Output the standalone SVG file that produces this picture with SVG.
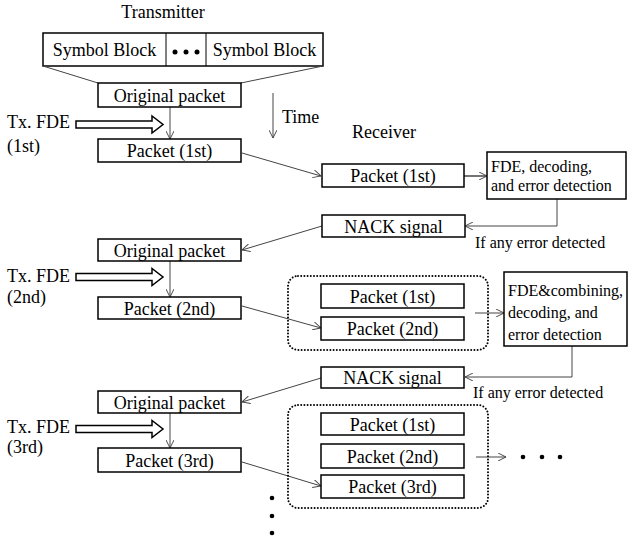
<svg xmlns="http://www.w3.org/2000/svg" width="636" height="539" viewBox="0 0 636 539" font-family="'Liberation Serif', 'Times New Roman', Times, serif">
<style>
text{font-family:'Liberation Serif','Times New Roman',Times,serif;fill:#000}
.t{font-size:18px}
.s{font-size:16px}
.m{text-anchor:middle}
.box{fill:#fff;stroke:#000;stroke-width:1.5}
.ln{fill:none;stroke:#444;stroke-width:1}
.ar{fill:none;stroke:#444;stroke-width:1;marker-end:url(#ah)}
.dot{fill:none;stroke:#000;stroke-width:2;stroke-dasharray:0 3.2;stroke-linecap:round}
.hol{fill:#fff;stroke:#000;stroke-width:1.5}
</style>
<defs>
<marker id="ah" viewBox="0 0 10 10" refX="10" refY="5" markerWidth="8" markerHeight="8" markerUnits="userSpaceOnUse" orient="auto">
<path d="M0,0 L10,5 L0,10" fill="none" stroke="#444" stroke-width="1.2"/>
</marker>
</defs>

<text class="t m" x="163" y="18">Transmitter</text>
<text class="t" x="352" y="138">Receiver</text>
<text class="t" x="282" y="123">Time</text>

<g id="symbolBlocks">
<rect class="box" x="43" y="33" width="280" height="33"/>
<line x1="166" y1="33" x2="166" y2="66" stroke="#000" stroke-width="1"/>
<line x1="206" y1="33" x2="206" y2="66" stroke="#000" stroke-width="1"/>
<text class="t m" x="104.5" y="56">Symbol Block</text>
<circle cx="175" cy="52" r="2.5"/><circle cx="186" cy="52" r="2.5"/><circle cx="197" cy="52" r="2.5"/>
<text class="t m" x="264.5" y="56">Symbol Block</text>
</g>

<g id="connectors">
<line class="ln" x1="43" y1="66" x2="98" y2="83"/>
<line class="ln" x1="323" y1="66" x2="241" y2="83"/>
<line class="ar" x1="170" y1="107" x2="170" y2="139"/>
<line class="ar" x1="273" y1="93" x2="273" y2="138"/>
<line class="ar" x1="242" y1="153" x2="321" y2="176"/>
<line class="ar" x1="464" y1="176" x2="487" y2="176" style="stroke-width:1.5"/>
<polyline class="ar" points="557,199 557,226 465,226"/>
<line class="ar" x1="322" y1="226" x2="242" y2="250"/>
<line class="ar" x1="170" y1="261" x2="170" y2="297"/>
<line class="ar" x1="242" y1="306" x2="321" y2="328"/>
<line class="ar" x1="475" y1="313" x2="504" y2="313"/>
<polyline class="ar" points="572,346 572,377 465,377"/>
<line class="ar" x1="321" y1="378" x2="242" y2="402"/>
<line class="ar" x1="170" y1="413" x2="170" y2="448"/>
<line class="ar" x1="242" y1="462" x2="321" y2="486"/>
<line class="ar" x1="476" y1="457" x2="506" y2="457"/>
</g>

<g id="txfde1">
<text class="t" x="7" y="128">Tx. FDE</text>
<text class="t" x="7" y="152">(1st)</text>
<polygon class="hol" points="76,121 152,121 152,116 163,124.5 152,133 152,128 76,128"/>
</g>
<g id="txfde2">
<text class="t" x="7" y="282">Tx. FDE</text>
<text class="t" x="7" y="303">(2nd)</text>
<polygon class="hol" points="76,273.5 152,273.5 152,268.5 163,277 152,285.5 152,280.5 76,280.5"/>
</g>
<g id="txfde3">
<text class="t" x="7" y="433">Tx. FDE</text>
<text class="t" x="7" y="453">(3rd)</text>
<polygon class="hol" points="76,425.5 152,425.5 152,420.5 163,429 152,437.5 152,432.5 76,432.5"/>
</g>

<g id="orig1"><rect class="box" x="98" y="83" width="143" height="24"/><text class="t m" x="169.5" y="101.5">Original packet</text></g>
<g id="tx1"><rect class="box" x="98" y="139" width="143" height="23"/><text class="t m" x="169.5" y="157">Packet (1st)</text></g>
<g id="rx1"><rect class="box" x="322" y="164" width="142" height="23"/><text class="t m" x="393" y="182">Packet (1st)</text></g>
<g id="fde1"><rect class="box" x="487" y="152" width="139" height="47"/>
<text class="s" x="491" y="172">FDE, decoding,</text><text class="s" x="491" y="191">and error detection</text></g>
<g id="nack1"><rect class="box" x="322" y="215" width="143" height="22"/><text class="t m" x="393.5" y="232.5">NACK signal</text></g>
<text class="s" x="475" y="248">If any error detected</text>

<g id="orig2"><rect class="box" x="98" y="239" width="143" height="22"/><text class="t m" x="169.5" y="256.5">Original packet</text></g>
<g id="tx2"><rect class="box" x="98" y="297" width="143" height="22"/><text class="t m" x="169.5" y="314.5">Packet (2nd)</text></g>
<g id="group2">
<rect class="dot" x="288" y="276" width="200" height="74" rx="10"/>
<rect class="box" x="321" y="284" width="143" height="24"/><text class="t m" x="392.5" y="302.5">Packet (1st)</text>
<rect class="box" x="321" y="317" width="143" height="23"/><text class="t m" x="392.5" y="335">Packet (2nd)</text>
</g>
<g id="fde2"><rect class="box" x="504" y="272" width="123" height="74"/>
<text class="s" x="508" y="296">FDE&amp;combining,</text><text class="s" x="508" y="318">decoding, and</text><text class="s" x="508" y="340">error detection</text></g>
<g id="nack2"><rect class="box" x="321" y="367" width="143" height="21"/><text class="t m" x="392.5" y="384">NACK signal</text></g>
<text class="s" x="473" y="398">If any error detected</text>

<g id="orig3"><rect class="box" x="98" y="391" width="143" height="22"/><text class="t m" x="169.5" y="408.5">Original packet</text></g>
<g id="tx3"><rect class="box" x="98" y="448" width="143" height="24"/><text class="t m" x="169.5" y="466.5">Packet (3rd)</text></g>
<g id="group3">
<rect class="dot" x="288" y="405" width="200" height="103" rx="10"/>
<rect class="box" x="321" y="413" width="143" height="22"/><text class="t m" x="392.5" y="430.5">Packet (1st)</text>
<rect class="box" x="321" y="444" width="143" height="24"/><text class="t m" x="392.5" y="462.5">Packet (2nd)</text>
<rect class="box" x="321" y="475" width="143" height="23"/><text class="t m" x="392.5" y="493">Packet (3rd)</text>
</g>
<g id="dotsRight"><circle cx="523" cy="457" r="2.3"/><circle cx="542" cy="457" r="2.3"/><circle cx="560" cy="457" r="2.3"/></g>
<g id="dotsDown"><circle cx="272" cy="498" r="2.3"/><circle cx="272" cy="516" r="2.3"/><circle cx="272" cy="533" r="2.3"/></g>
</svg>
